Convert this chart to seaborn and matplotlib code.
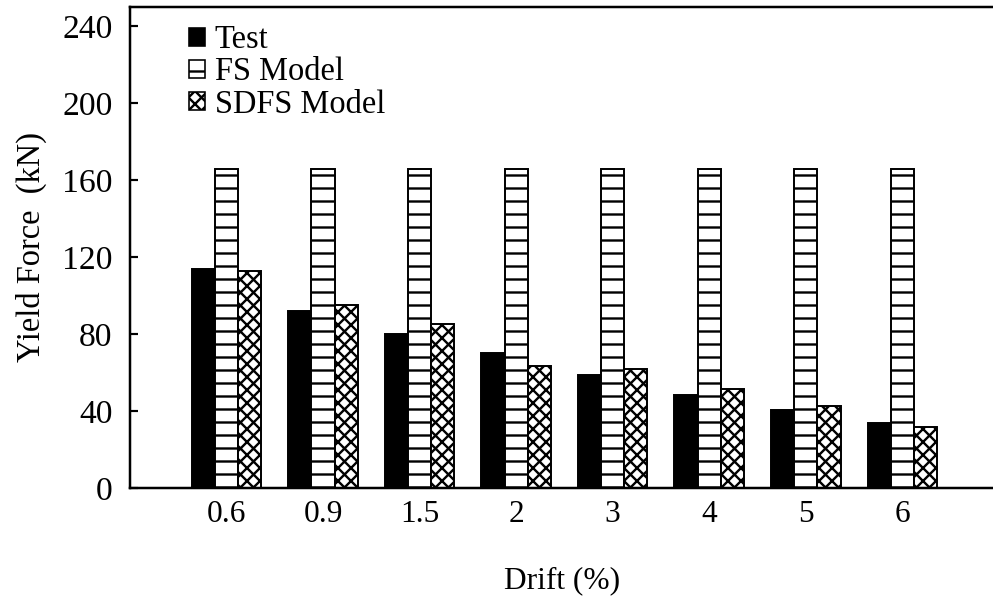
import matplotlib
matplotlib.use("Agg")
import matplotlib.pyplot as plt
from matplotlib.patches import Patch
import seaborn as sns
import pandas as pd

drift = ["0.6", "0.9", "1.5", "2", "3", "4", "5", "6"]
test = [114, 92, 80, 70, 58.5, 48.3, 40.7, 34]
fs_model = [166, 166, 166, 166, 166, 166, 166, 166]
sdfs_model = [113, 95, 85, 63.4, 62, 51.4, 42.8, 31.8]
series = ["Test", "FS Model", "SDFS Model"]
yticks = [0, 40, 80, 120, 160, 200, 240]

df = pd.DataFrame({
    "Drift": drift * 3,
    "Force": test + fs_model + sdfs_model,
    "Series": [series[0]] * 8 + [series[1]] * 8 + [series[2]] * 8,
})

sns.set_style("ticks")
DPI = 78
plt.rcParams["font.family"] = ["Liberation Serif", "DejaVu Serif"]
plt.rcParams["hatch.linewidth"] = 2.2
plt.rcParams["hatch.color"] = "black"
for k in ["text.color", "axes.labelcolor", "xtick.color", "ytick.color", "axes.edgecolor"]:
    plt.rcParams[k] = "black"

fig = plt.figure(figsize=(994 / DPI, 601 / DPI), dpi=DPI)
ax = fig.add_axes([130 / 994, 113 / 601, 864 / 994, 481 / 601])

palette = {"Test": "black", "FS Model": "white", "SDFS Model": "white"}
sns.barplot(data=df, x="Drift", y="Force", hue="Series", order=drift,
            hue_order=series, palette=palette, saturation=1, width=0.72,
            gap=0, edgecolor="black", linewidth=1.8, ax=ax, legend=False)

hatches = [None, "-", "xx"]
for cont, h in zip(ax.containers, hatches):
    for bar in cont:
        bar.set_edgecolor("black")
        bar.set_linewidth(1.8)
        if h:
            bar.set_hatch(h)

ax.set_xlim(-1, 7.95)
ax.set_ylim(0, 250)
ax.set_yticks(yticks)
ax.set_yticklabels([str(t) for t in yticks])
ax.tick_params(axis="y", direction="in", length=7, width=2, pad=16, labelsize=31)
ax.tick_params(axis="x", length=0, pad=11, labelsize=29)

for s in ["top", "left", "bottom"]:
    ax.spines[s].set_linewidth(2.3)
ax.spines["right"].set_visible(False)

ax.set_xlabel("Drift (%)", fontsize=29, labelpad=34)
ax.set_ylabel("Yield Force  (kN)", fontsize=30, labelpad=14)

handles = [
    Patch(facecolor="black", edgecolor="black", linewidth=1.5),
    Patch(facecolor="white", edgecolor="black", linewidth=1.5, hatch="-"),
    Patch(facecolor="white", edgecolor="black", linewidth=1.5, hatch="xx"),
]
ax.legend(handles, series, loc="upper left", bbox_to_anchor=(0.053, 0.99),
          frameon=False, fontsize=30, handlelength=0.5, handleheight=0.5,
          handletextpad=0.3, labelspacing=0.05, borderaxespad=0)

fig.savefig("out.png", dpi=DPI)
